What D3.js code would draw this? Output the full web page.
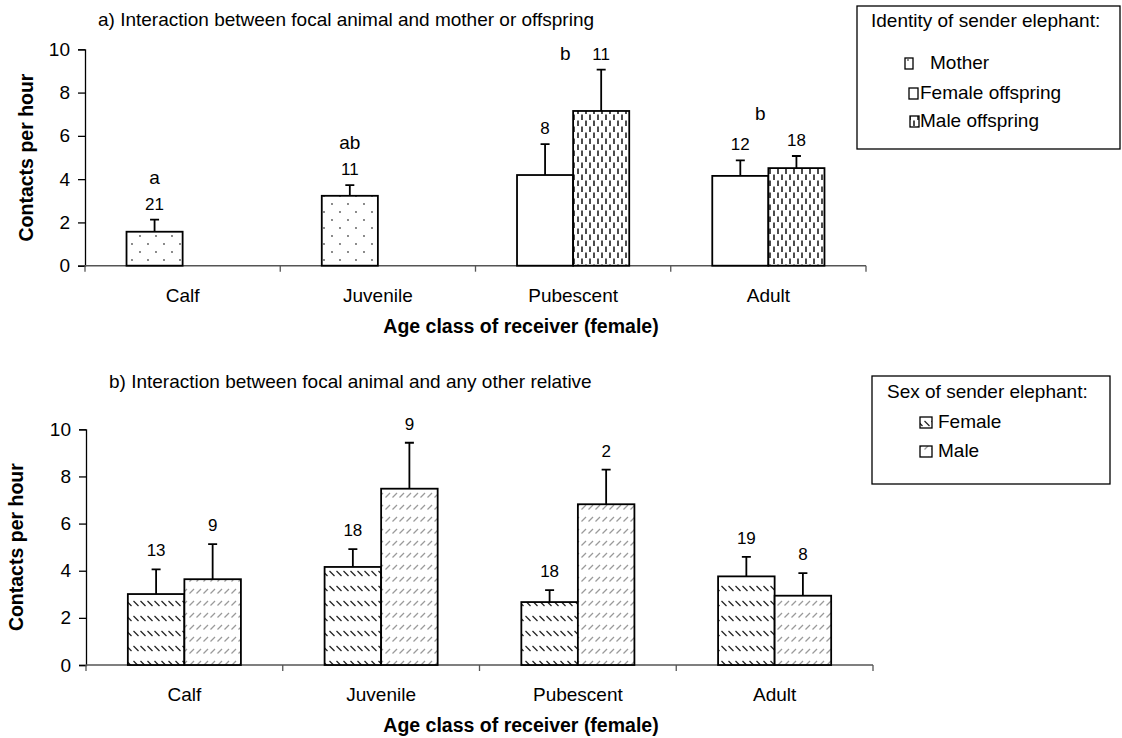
<!DOCTYPE html>
<html>
<head>
<meta charset="utf-8">
<script src="https://cdn.jsdelivr.net/npm/d3@7"></script>
<style>
  html, body { margin: 0; padding: 0; background: #fff; }
  svg { display: block; font-family: Arial, "Liberation Sans", Helvetica, sans-serif; }
</style>
</head>
<body>
<svg id="chart" width="1122" height="738"></svg>
<script>
// ---- data ----
const ageClasses = ["Calf", "Juvenile", "Pubescent", "Adult"];
const yTickValues = [0, 2, 4, 6, 8, 10];

// a) focal animal with mother or offspring (mean contacts per hour, SE, sample size)
const motherMean = [1.57, 3.23, null, null];
const motherSE = [0.56, 0.49, null, null];
const motherN = [21, 11, null, null];
const femaleOffspringMean = [null, null, 4.19, 4.15];
const femaleOffspringSE = [null, null, 1.43, 0.72];
const femaleOffspringN = [null, null, 8, 12];
const maleOffspringMean = [null, null, 7.15, 4.51];
const maleOffspringSE = [null, null, 1.91, 0.56];
const maleOffspringN = [null, null, 11, 18];
const groupLetters = ["a", "ab", "b", "b"];

// b) focal animal with any other relative
const femaleRelMean = [3.01, 4.16, 2.67, 3.76];
const femaleRelSE = [1.05, 0.76, 0.51, 0.83];
const femaleRelN = [13, 18, 18, 19];
const maleRelMean = [3.64, 7.48, 6.82, 2.94];
const maleRelSE = [1.49, 1.95, 1.47, 0.96];
const maleRelN = [9, 9, 2, 8];

const svg = d3.select("#chart");
const defs = svg.append("defs");

// ---- fill patterns ----
function pattern(id, w, h, draw) {
  const p = defs.append("pattern").attr("id", id)
    .attr("patternUnits", "userSpaceOnUse").attr("width", w).attr("height", h);
  p.append("rect").attr("width", w).attr("height", h).attr("fill", "#fff");
  draw(p);
}
pattern("dots", 16, 16, p => {
  p.append("circle").attr("cx", 4).attr("cy", 4).attr("r", 0.9).attr("fill", "#555");
  p.append("circle").attr("cx", 12).attr("cy", 12).attr("r", 0.9).attr("fill", "#555");
});
pattern("vdash", 8, 12, p => {
  p.append("line").attr("x1", 2).attr("x2", 2).attr("y1", 0.5).attr("y2", 6)
    .attr("stroke", "#000").attr("stroke-width", 1.4);
  p.append("line").attr("x1", 6).attr("x2", 6).attr("y1", 6.5).attr("y2", 12)
    .attr("stroke", "#000").attr("stroke-width", 1.4);
});
pattern("hatchDown", 7, 15, p => {
  p.append("line").attr("x1", 0.5).attr("y1", 1).attr("x2", 5.5).attr("y2", 6)
    .attr("stroke", "#222").attr("stroke-width", 1.3);
});
pattern("hatchUp", 7, 12, p => {
  p.append("line").attr("x1", 0.5).attr("y1", 5.5).attr("x2", 5).attr("y2", 1)
    .attr("stroke", "#9a9a9a").attr("stroke-width", 1.2);
});
pattern("white", 4, 4, p => {});

// ---- panel drawing ----
function drawPanel(cfg) {
  const g = svg.append("g");
  const x = d3.scaleBand().domain(ageClasses).range([cfg.left, cfg.right]).padding(0);
  const slot = d3.scaleBand().domain(["left", "right"]).range([0, x.bandwidth()])
    .paddingInner(0).paddingOuter(0.74);
  const y = d3.scaleLinear().domain([0, 10]).range([cfg.y0, cfg.y10]);

  // y axis
  const yAxis = g.append("g").attr("transform", `translate(${cfg.left},0)`)
    .call(d3.axisLeft(y).tickValues(yTickValues).tickSize(7).tickPadding(8).tickFormat(d3.format("d")));
  yAxis.select(".domain").attr("stroke", "#000").attr("stroke-width", 1.3);
  yAxis.selectAll(".tick line").attr("stroke", "#000").attr("stroke-width", 1.3);
  yAxis.selectAll(".tick text").attr("font-size", 19).attr("fill", "#000")
    .attr("font-family", "Arial, 'Liberation Sans', sans-serif");

  // x axis: baseline with ticks between categories
  const bounds = ageClasses.map(c => x(c)).concat([cfg.right]);
  g.append("line").attr("x1", cfg.left).attr("x2", cfg.right)
    .attr("y1", cfg.y0).attr("y2", cfg.y0).attr("stroke", "#555").attr("stroke-width", 1.6);
  g.selectAll(".xtick").data(bounds).join("line")
    .attr("x1", d => d).attr("x2", d => d).attr("y1", cfg.y0).attr("y2", cfg.y0 + 6)
    .attr("stroke", "#555").attr("stroke-width", 1.3);
  g.selectAll(".xlab").data(ageClasses).join("text")
    .attr("x", d => x(d) + x.bandwidth() / 2).attr("y", cfg.y0 + 36)
    .attr("text-anchor", "middle").attr("font-size", 19).text(d => d);

  // bars
  const bars = [];
  cfg.series.forEach(s => {
    ageClasses.forEach((c, i) => {
      if (s.mean[i] == null) return;
      bars.push({ cat: c, i, slot: s.slot, fill: s.fill, mean: s.mean[i], se: s.se[i], n: s.n[i] });
    });
  });
  bars.forEach(b => {
    b.x = x(b.cat) + slot(b.slot);
    b.cx = b.x + slot.bandwidth() / 2;
    b.top = y(b.mean + b.se);
    b.labelY = b.top - cfg.labelGap;
  });
  g.selectAll(".bar").data(bars).join("rect")
    .attr("x", d => d.x).attr("width", slot.bandwidth())
    .attr("y", d => y(d.mean)).attr("height", d => y(0) - y(d.mean))
    .attr("fill", d => `url(#${d.fill})`).attr("stroke", "#000").attr("stroke-width", 1.8);

  // upper error bars
  g.selectAll(".err").data(bars).join("path")
    .attr("d", d => `M${d.cx},${y(d.mean)}V${d.top}M${d.cx - 4.5},${d.top}H${d.cx + 4.5}`)
    .attr("fill", "none").attr("stroke", "#000").attr("stroke-width", 1.8);

  // sample sizes
  g.selectAll(".n").data(bars).join("text")
    .attr("x", d => d.cx).attr("y", d => d.labelY)
    .attr("text-anchor", "middle").attr("font-size", 17).text(d => d.n);

  // significance letters
  if (cfg.letters) {
    ageClasses.forEach((c, i) => {
      const grp = bars.filter(b => b.i === i);
      if (!grp.length || !cfg.letters[i]) return;
      const highest = grp.reduce((a, b) => (b.labelY < a.labelY ? b : a));
      let lx = grp.length === 1 ? grp[0].cx : x(c) + x.bandwidth() / 2 - 8;
      let ly = highest.labelY - 26;
      if (ly < cfg.y10) { lx = highest.cx - 36; ly = highest.labelY; }
      g.append("text").attr("x", lx).attr("y", ly).attr("text-anchor", "middle")
        .attr("font-size", 19).text(cfg.letters[i]);
    });
  }

  // titles
  g.append("text").attr("x", cfg.titleX).attr("y", cfg.titleY).attr("font-size", 19).text(cfg.title);
  g.append("text").attr("x", 521).attr("y", cfg.y0 + 67).attr("text-anchor", "middle")
    .attr("font-size", 19.5).attr("font-weight", "bold").text("Age class of receiver (female)");
  g.append("text").attr("transform", `translate(${cfg.yTitleX},${(cfg.y0 + cfg.y10) / 2}) rotate(-90)`)
    .attr("text-anchor", "middle").attr("font-size", 19.5).attr("font-weight", "bold")
    .text("Contacts per hour");

  // legend box
  const L = cfg.legend;
  g.append("rect").attr("x", L.x).attr("y", L.y).attr("width", L.w).attr("height", L.h)
    .attr("fill", "#fff").attr("stroke", "#000").attr("stroke-width", 1.3);
  g.append("text").attr("x", L.titleX).attr("y", L.titleY).attr("font-size", 19).text(L.title);
  L.items.forEach(it => {
    g.append("rect").attr("x", it.sx).attr("y", it.y - 11).attr("width", it.sw).attr("height", 11)
      .attr("fill", `url(#${it.fill})`).attr("stroke", "#000").attr("stroke-width", 1.3);
    g.append("text").attr("x", it.tx).attr("y", it.y).attr("font-size", 19).text(it.label);
  });
}

drawPanel({
  left: 85, right: 866, y0: 265.7, y10: 49.3, labelGap: 10,
  title: "a) Interaction between focal animal and mother or offspring", titleX: 98, titleY: 26,
  yTitleX: 33,
  letters: groupLetters,
  series: [
    { mean: motherMean, se: motherSE, n: motherN, slot: "left", fill: "dots" },
    { mean: femaleOffspringMean, se: femaleOffspringSE, n: femaleOffspringN, slot: "left", fill: "white" },
    { mean: maleOffspringMean, se: maleOffspringSE, n: maleOffspringN, slot: "right", fill: "vdash" }
  ],
  legend: {
    x: 857, y: 6, w: 263, h: 143, title: "Identity of sender elephant:", titleX: 871, titleY: 27,
    items: [
      { label: "Mother", fill: "dots", sx: 905, sw: 8, tx: 930, y: 69 },
      { label: "Female offspring", fill: "white", sx: 909, sw: 9, tx: 920, y: 99 },
      { label: "Male offspring", fill: "vdash", sx: 910, sw: 9, tx: 920, y: 127 }
    ]
  }
});

drawPanel({
  left: 86, right: 873, y0: 665, y10: 429.3, labelGap: 13,
  title: "b) Interaction between focal animal and any other relative", titleX: 109, titleY: 388,
  yTitleX: 23,
  letters: null,
  series: [
    { mean: femaleRelMean, se: femaleRelSE, n: femaleRelN, slot: "left", fill: "hatchDown" },
    { mean: maleRelMean, se: maleRelSE, n: maleRelN, slot: "right", fill: "hatchUp" }
  ],
  legend: {
    x: 872, y: 376, w: 238, h: 108, title: "Sex of sender elephant:", titleX: 887, titleY: 398,
    items: [
      { label: "Female", fill: "hatchDown", sx: 920, sw: 12, tx: 938, y: 428 },
      { label: "Male", fill: "hatchUp", sx: 920, sw: 12, tx: 938, y: 457 }
    ]
  }
});
</script>
</body>
</html>
